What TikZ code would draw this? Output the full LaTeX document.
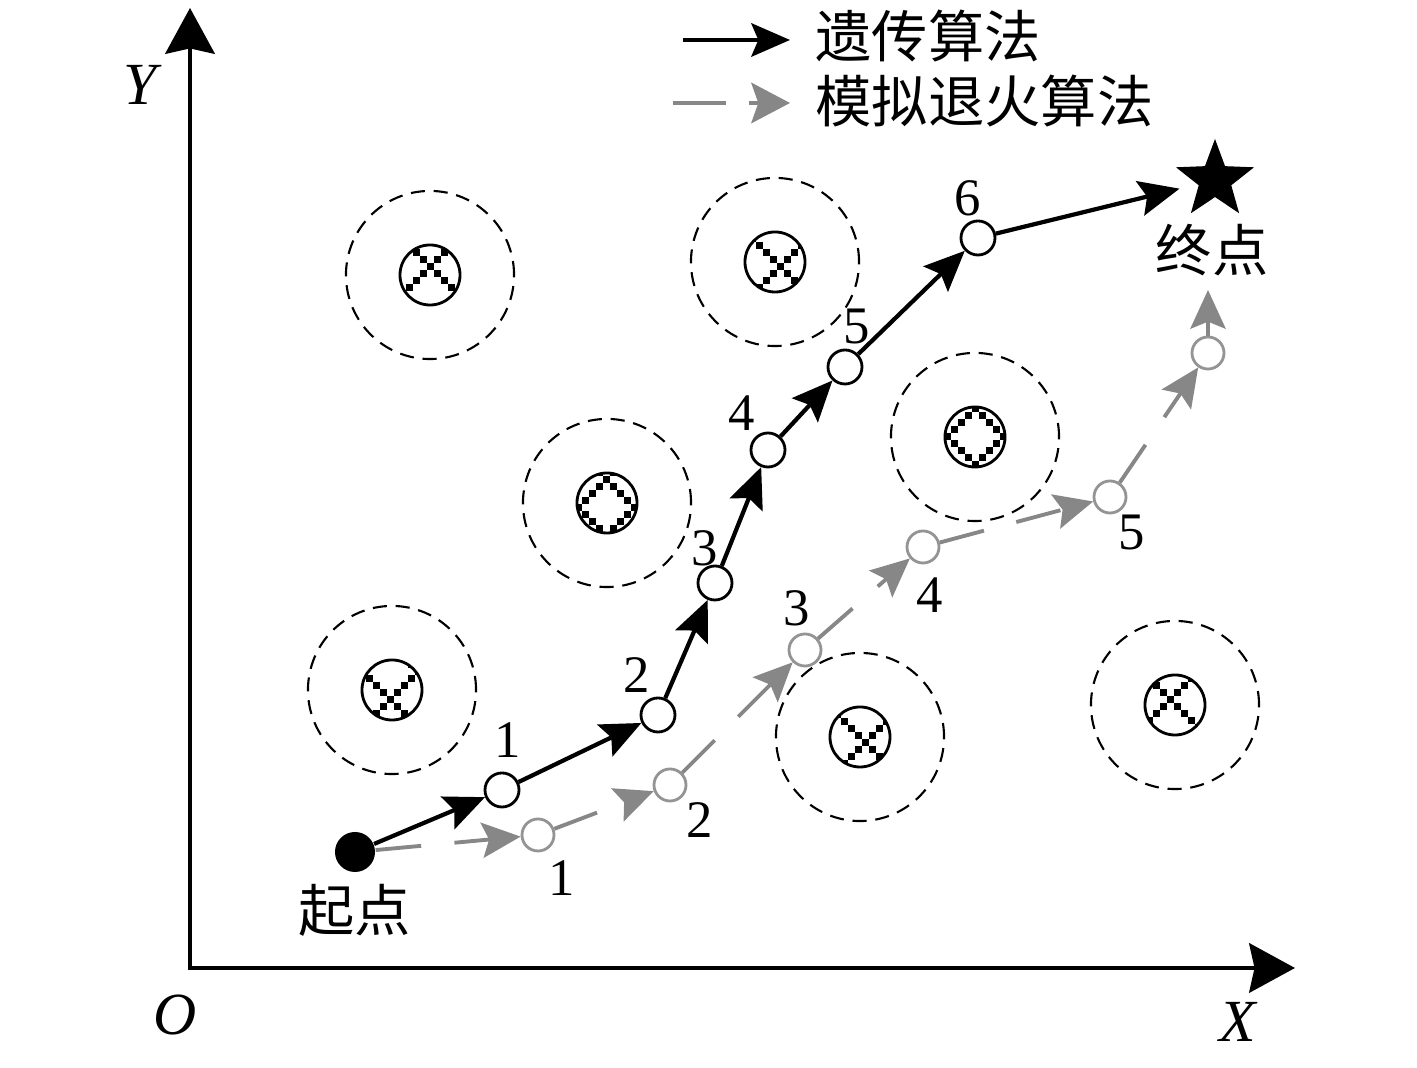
\documentclass[tikz,border=0pt]{standalone}
\usepackage{fontspec}
\setmainfont{Liberation Serif}
\newfontfamily\cjk{Noto Sans CJK SC}
\usetikzlibrary{arrows.meta,positioning,shapes.geometric}
\definecolor{saline}{gray}{0.53}
\definecolor{sanode}{gray}{0.58}

% obstacle: name, centre x, centre y, one crossing of the hatch (x, y)
\newcommand{\obstacle}[5]{%
  \node[zone] (#1) at (#2,#3) {};
  \begin{scope}
    \clip (#2,#3) circle (30);
    \foreach \m in {-1,0,1}{
      \foreach \k in {-9,...,9}{
        \fill ({#4+\m*56+\k*7-3.5},{#5+\k*7-3.5}) rectangle ++(7,7);
        \fill ({#4+\m*56+\k*7-3.5},{#5-\k*7-3.5}) rectangle ++(7,7);
      }
    }
  \end{scope}
  \node[core] (#1c) at (#2,#3) {};
}

\begin{document}
\begin{tikzpicture}[
  x=0.01cm, y=-0.01cm,
  zone/.style={circle, draw, dashed, dash pattern=on 4pt off 2.5pt,
               line width=0.6pt, minimum size=1.68cm, inner sep=0pt},
  core/.style={circle, draw, line width=0.8pt, minimum size=0.6cm, inner sep=0pt},
  ganode/.style={circle, draw, fill=white, line width=0.8pt,
                 minimum size=0.34cm, inner sep=0pt},
  sanode/.style={circle, draw=sanode, fill=white, line width=0.8pt,
                 minimum size=0.32cm, inner sep=0pt},
  gaarrow/.style={line width=1.2pt, -{Stealth[length=11.5pt, width=10pt, inset=2pt]}},
  saarrow/.style={draw=saline, line width=1.1pt, dash pattern=on 13pt off 9.5pt,
                  -{Stealth[length=11pt, width=10pt, inset=2pt, fill=saline]}},
  axis/.style={line width=1.4pt,
               {Stealth[length=13pt, width=14pt, inset=1.5pt]}-{Stealth[length=13pt, width=14pt, inset=1.5pt]}},
  num/.style={font=\fontsize{15}{18}\selectfont, inner sep=0pt},
  axlbl/.style={font=\fontsize{17}{20}\selectfont\itshape, inner sep=0pt},
  cjklbl/.style={font=\cjk\fontsize{16}{19}\selectfont, inner sep=0pt},
]
  \useasboundingbox (0,0) rectangle (1417,1068);

  % axes
  \coordinate (ytop) at (190,8);
  \coordinate (O) at (190,968);
  \coordinate (xend) at (1295,968);
  \draw[axis] (ytop) -- (O) -- (xend);
  \node[axlbl] (ylbl) at (140,85) {Y};
  \node[axlbl] (olbl) at (175,1015) {O};
  \node[axlbl] (xlbl) at (1238,1022) {X};

  % obstacles
  \obstacle{obsA}{430}{275}{430}{267}
  \obstacle{obsB}{775}{262}{780}{267}
  \obstacle{obsC}{607}{503}{606}{480}
  \obstacle{obsD}{975}{437}{975}{409}
  \obstacle{obsE}{392}{690}{390}{700}
  \obstacle{obsF}{860}{737}{865}{743}
  \obstacle{obsG}{1175}{705}{1170}{700}

  % start and goal
  \node[circle, fill, minimum size=0.4cm, inner sep=0pt] (start) at (355,852) {};
  \node[cjklbl] (startlbl) at (355,910) {起点};
  \node[star, star points=5, star point ratio=2.4, fill, minimum size=0.82cm,
        inner sep=0pt] (goal) at (1215,180) {};
  \node[cjklbl] (goallbl) at (1212,250) {终点};

  % genetic algorithm path
  \node[ganode] (g1) at (502,790) {};
  \node[ganode] (g2) at (658,715) {};
  \node[ganode] (g3) at (715,583) {};
  \node[ganode] (g4) at (768,450) {};
  \node[ganode] (g5) at (845,367) {};
  \node[ganode] (g6) at (978,238) {};
  \foreach \a/\b in {start/g1, g1/g2, g2/g3, g3/g4, g4/g5, g5/g6}
    \draw[gaarrow] (\a) -- (\b);
  \draw[gaarrow, shorten >=5pt] (g6) -- (goal);

  \node[num] at ([shift={(6,-50)}]g1) {1};
  \node[num] at ([shift={(-21,-40)}]g2) {2};
  \node[num] at ([shift={(-10,-35)}]g3) {3};
  \node[num] at ([shift={(-26,-37)}]g4) {4};
  \node[num] at ([shift={(12,-40)}]g5) {5};
  \node[num] at ([shift={(-10,-40)}]g6) {6};

  % simulated annealing path
  \node[sanode] (s1) at (538,835) {};
  \node[sanode] (s2) at (670,785) {};
  \node[sanode] (s3) at (805,650) {};
  \node[sanode] (s4) at (923,547) {};
  \node[sanode] (s5) at (1110,497) {};
  \node[sanode] (s6) at (1208,353) {};
  \coordinate (saend) at (1208,290);
  \foreach \a/\b in {start/s1, s1/s2, s2/s3, s3/s4, s4/s5, s5/s6, s6/saend}
    \draw[saarrow] (\a) -- (\b);

  \node[num] at ([shift={(24,43)}]s1) {1};
  \node[num] at ([shift={(30,35)}]s2) {2};
  \node[num] at ([shift={(-8,-42)}]s3) {3};
  \node[num] at ([shift={(7,48)}]s4) {4};
  \node[num] at ([shift={(22,36)}]s5) {5};

  % legend
  \coordinate (lgA1) at (683,40);
  \coordinate (lgA2) at (790,40);
  \draw[line width=1.2pt, -{Stealth[length=11pt, width=9.5pt, inset=2pt]}] (lgA1) -- (lgA2);
  \node[cjklbl, anchor=west] (lgGA) at (815,36) {遗传算法};
  \coordinate (lgB1) at (673,103);
  \coordinate (lgB2) at (790,103);
  \draw[draw=saline, line width=1.2pt, dash pattern=on 15pt off 6.5pt,
        -{Stealth[length=11pt, width=11.5pt, inset=2pt, fill=saline]}] (lgB1) -- (lgB2);
  \node[cjklbl, anchor=west] (lgSA) at (815,101) {模拟退火算法};
\end{tikzpicture}
\end{document}
